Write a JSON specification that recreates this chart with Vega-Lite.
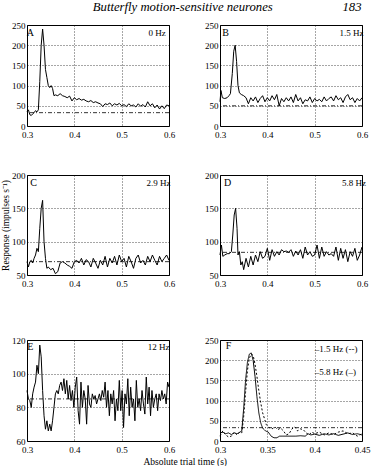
{
  "$schema": "https://vega.github.io/schema/vega-lite/v6.json",
  "padding": {"left": 0, "top": 0, "right": 0, "bottom": 0},
  "background": "white",
  "title": {"text": "Butterfly motion-sensitive neurones\u00a0\u00a0\u00a0\u00a0\u00a0\u00a0\u00a0\u00a0\u00a0\u00a0\u00a0\u00a0\u00a0\u00a0\u00a0\u00a0\u00a0\u00a0\u00a0\u00a0\u00a0\u00a0183", "fontStyle": "italic", "fontSize": 12.7, "anchor": "middle", "dx": 42, "offset": 7},
  "spacing": 46,
  "vconcat": [
    {
      "spacing": 30,
      "vconcat": [
        {
          "spacing": 28,
          "hconcat": [
            {
              "width": 142, "height": 101,
              "layer": [
                {
                  "data": {"values": [
                    {"t":0.300,"r":35},{"t":0.303,"r":40},{"t":0.306,"r":28},{"t":0.309,"r":26},{"t":0.312,"r":30},{"t":0.315,"r":33},{"t":0.318,"r":38},{"t":0.321,"r":35},{"t":0.324,"r":40},{"t":0.327,"r":110},{"t":0.330,"r":200},{"t":0.333,"r":240},{"t":0.336,"r":200},{"t":0.339,"r":140},{"t":0.342,"r":120},{"t":0.345,"r":100},{"t":0.348,"r":95},{"t":0.351,"r":100},{"t":0.354,"r":93},{"t":0.357,"r":75},{"t":0.360,"r":77},{"t":0.365,"r":75},{"t":0.370,"r":80},{"t":0.375,"r":75},{"t":0.380,"r":73},{"t":0.385,"r":70},{"t":0.390,"r":74},{"t":0.395,"r":62},{"t":0.400,"r":70},{"t":0.405,"r":65},{"t":0.410,"r":68},{"t":0.415,"r":64},{"t":0.420,"r":66},{"t":0.425,"r":62},{"t":0.430,"r":60},{"t":0.435,"r":63},{"t":0.440,"r":58},{"t":0.445,"r":60},{"t":0.450,"r":57},{"t":0.455,"r":55},{"t":0.460,"r":48},{"t":0.465,"r":55},{"t":0.470,"r":53},{"t":0.475,"r":57},{"t":0.480,"r":50},{"t":0.485,"r":55},{"t":0.490,"r":52},{"t":0.495,"r":56},{"t":0.500,"r":50},{"t":0.505,"r":53},{"t":0.510,"r":48},{"t":0.515,"r":55},{"t":0.520,"r":50},{"t":0.525,"r":52},{"t":0.530,"r":47},{"t":0.535,"r":55},{"t":0.540,"r":49},{"t":0.545,"r":53},{"t":0.550,"r":47},{"t":0.555,"r":60},{"t":0.560,"r":50},{"t":0.565,"r":55},{"t":0.570,"r":45},{"t":0.575,"r":52},{"t":0.580,"r":42},{"t":0.585,"r":50},{"t":0.590,"r":43},{"t":0.595,"r":52},{"t":0.600,"r":50}
                  ]},
                  "mark": {"type": "line", "color": "black", "strokeWidth": 1},
                  "encoding": {
                    "x": {"field": "t", "type": "quantitative", "scale": {"domain": [0.3, 0.6], "nice": false, "zero": false}, "axis": {"values": [0.3, 0.4, 0.5, 0.6], "format": ".1f", "title": null}},
                    "y": {"field": "r", "type": "quantitative", "scale": {"domain": [0, 250], "nice": false}, "axis": {"values": [0, 50, 100, 150, 200, 250], "title": "Response (impulses s\u207b\u00b9)", "titleOpacity": 0}}
                  }
                },
                {"data": {"values": [{"r": 33}]}, "mark": {"type": "rule", "color": "black", "strokeDash": [4, 2, 1, 2], "strokeWidth": 0.8},
                  "encoding": {"y": {"field": "r", "type": "quantitative", "scale": {"domain": [0, 250], "nice": false}, "axis": {"values": [0, 50, 100, 150, 200, 250], "title": "Response (impulses s\u207b\u00b9)", "titleOpacity": 0}}}},
                {"data": {"values": [{"t": 0.307, "r": 230, "label": "A"}, {"t": 0.575, "r": 230, "label": "0 Hz"}]}, "mark": {"type": "text", "baseline": "middle", "font": "Liberation Serif"},
                  "encoding": {
                    "x": {"field": "t", "type": "quantitative", "scale": {"domain": [0.3, 0.6], "nice": false, "zero": false}, "axis": {"values": [0.3, 0.4, 0.5, 0.6], "format": ".1f", "title": null}},
                    "y": {"field": "r", "type": "quantitative", "scale": {"domain": [0, 250], "nice": false}, "axis": {"values": [0, 50, 100, 150, 200, 250], "title": "Response (impulses s\u207b\u00b9)", "titleOpacity": 0}},
                    "text": {"field": "label"},
                    "align": {"condition": {"test": "length(datum.label) == 1", "value": "left"}, "value": "right"},
                    "size": {"condition": {"test": "length(datum.label) == 1", "value": 10}, "value": 9}
                  }}
              ]
            },
            {
              "width": 142, "height": 101,
              "layer": [
                {
                  "data": {"values": [
                    {"t":0.300,"r":60},{"t":0.302,"r":88},{"t":0.305,"r":70},{"t":0.310,"r":68},{"t":0.315,"r":70},{"t":0.319,"r":75},{"t":0.322,"r":80},{"t":0.326,"r":130},{"t":0.329,"r":185},{"t":0.332,"r":200},{"t":0.335,"r":160},{"t":0.338,"r":100},{"t":0.341,"r":82},{"t":0.345,"r":78},{"t":0.350,"r":75},{"t":0.355,"r":70},{"t":0.360,"r":55},{"t":0.365,"r":70},{"t":0.370,"r":62},{"t":0.375,"r":72},{"t":0.380,"r":58},{"t":0.385,"r":68},{"t":0.390,"r":75},{"t":0.395,"r":60},{"t":0.400,"r":70},{"t":0.405,"r":62},{"t":0.410,"r":75},{"t":0.415,"r":65},{"t":0.420,"r":78},{"t":0.425,"r":50},{"t":0.430,"r":68},{"t":0.435,"r":60},{"t":0.440,"r":70},{"t":0.445,"r":62},{"t":0.450,"r":72},{"t":0.455,"r":58},{"t":0.460,"r":78},{"t":0.465,"r":62},{"t":0.470,"r":70},{"t":0.475,"r":55},{"t":0.480,"r":65},{"t":0.485,"r":62},{"t":0.490,"r":72},{"t":0.495,"r":58},{"t":0.500,"r":68},{"t":0.505,"r":62},{"t":0.510,"r":66},{"t":0.515,"r":60},{"t":0.520,"r":72},{"t":0.525,"r":62},{"t":0.530,"r":68},{"t":0.535,"r":72},{"t":0.540,"r":62},{"t":0.545,"r":75},{"t":0.550,"r":65},{"t":0.555,"r":70},{"t":0.560,"r":58},{"t":0.565,"r":72},{"t":0.570,"r":78},{"t":0.575,"r":65},{"t":0.580,"r":70},{"t":0.585,"r":58},{"t":0.590,"r":68},{"t":0.595,"r":62},{"t":0.600,"r":70}
                  ]},
                  "mark": {"type": "line", "color": "black", "strokeWidth": 1},
                  "encoding": {
                    "x": {"field": "t", "type": "quantitative", "scale": {"domain": [0.3, 0.6], "nice": false, "zero": false}, "axis": {"values": [0.3, 0.4, 0.5, 0.6], "format": ".1f", "title": null}},
                    "y": {"field": "r", "type": "quantitative", "scale": {"domain": [0, 250], "nice": false}, "axis": {"values": [0, 50, 100, 150, 200, 250], "title": null}}
                  }
                },
                {"data": {"values": [{"r": 50}]}, "mark": {"type": "rule", "color": "black", "strokeDash": [4, 2, 1, 2], "strokeWidth": 0.8},
                  "encoding": {"y": {"field": "r", "type": "quantitative", "scale": {"domain": [0, 250], "nice": false}, "axis": {"values": [0, 50, 100, 150, 200, 250], "title": null}}}},
                {"data": {"values": [{"t": 0.312, "r": 230, "label": "B"}, {"t": 0.578, "r": 230, "label": "1.5 Hz"}]}, "mark": {"type": "text", "baseline": "middle", "font": "Liberation Serif"},
                  "encoding": {
                    "x": {"field": "t", "type": "quantitative", "scale": {"domain": [0.3, 0.6], "nice": false, "zero": false}, "axis": {"values": [0.3, 0.4, 0.5, 0.6], "format": ".1f", "title": null}},
                    "y": {"field": "r", "type": "quantitative", "scale": {"domain": [0, 250], "nice": false}, "axis": {"values": [0, 50, 100, 150, 200, 250], "title": null}},
                    "text": {"field": "label"},
                    "align": {"condition": {"test": "length(datum.label) == 1", "value": "left"}, "value": "right"},
                    "size": {"condition": {"test": "length(datum.label) == 1", "value": 10}, "value": 9}
                  }}
              ]
            }
          ]
        },
        {
          "spacing": 28,
          "hconcat": [
            {
              "width": 142, "height": 100,
              "layer": [
                {
                  "data": {"values": [
                    {"t":0.300,"r":70},{"t":0.303,"r":62},{"t":0.306,"r":70},{"t":0.309,"r":72},{"t":0.312,"r":68},{"t":0.315,"r":75},{"t":0.318,"r":80},{"t":0.321,"r":90},{"t":0.324,"r":85},{"t":0.327,"r":120},{"t":0.330,"r":150},{"t":0.333,"r":162},{"t":0.336,"r":100},{"t":0.339,"r":75},{"t":0.342,"r":60},{"t":0.345,"r":62},{"t":0.350,"r":58},{"t":0.355,"r":60},{"t":0.360,"r":52},{"t":0.365,"r":55},{"t":0.370,"r":68},{"t":0.375,"r":70},{"t":0.380,"r":68},{"t":0.385,"r":65},{"t":0.390,"r":63},{"t":0.395,"r":60},{"t":0.400,"r":70},{"t":0.405,"r":72},{"t":0.410,"r":68},{"t":0.415,"r":75},{"t":0.420,"r":65},{"t":0.425,"r":73},{"t":0.430,"r":70},{"t":0.435,"r":62},{"t":0.440,"r":75},{"t":0.445,"r":68},{"t":0.450,"r":60},{"t":0.455,"r":72},{"t":0.460,"r":65},{"t":0.465,"r":78},{"t":0.470,"r":62},{"t":0.475,"r":75},{"t":0.480,"r":68},{"t":0.485,"r":78},{"t":0.490,"r":65},{"t":0.495,"r":80},{"t":0.500,"r":70},{"t":0.505,"r":75},{"t":0.510,"r":62},{"t":0.515,"r":78},{"t":0.520,"r":70},{"t":0.525,"r":60},{"t":0.530,"r":75},{"t":0.535,"r":80},{"t":0.540,"r":68},{"t":0.545,"r":72},{"t":0.550,"r":65},{"t":0.555,"r":78},{"t":0.560,"r":70},{"t":0.565,"r":80},{"t":0.570,"r":72},{"t":0.575,"r":65},{"t":0.580,"r":78},{"t":0.585,"r":70},{"t":0.590,"r":75},{"t":0.595,"r":80},{"t":0.600,"r":72}
                  ]},
                  "mark": {"type": "line", "color": "black", "strokeWidth": 1},
                  "encoding": {
                    "x": {"field": "t", "type": "quantitative", "scale": {"domain": [0.3, 0.6], "nice": false, "zero": false}, "axis": {"values": [0.3, 0.4, 0.5, 0.6], "format": ".1f", "title": null}},
                    "y": {"field": "r", "type": "quantitative", "scale": {"domain": [50, 200], "nice": false, "zero": false}, "axis": {"values": [50, 100, 150, 200], "title": "Response (impulses s\u207b\u00b9)"}}
                  }
                },
                {"data": {"values": [{"r": 70}]}, "mark": {"type": "rule", "color": "black", "strokeDash": [4, 2, 1, 2], "strokeWidth": 0.8},
                  "encoding": {"y": {"field": "r", "type": "quantitative", "scale": {"domain": [50, 200], "nice": false, "zero": false}, "axis": {"values": [50, 100, 150, 200], "title": "Response (impulses s\u207b\u00b9)"}}}},
                {"data": {"values": [{"t": 0.314, "r": 188, "label": "C"}, {"t": 0.578, "r": 188, "label": "2.9 Hz"}]}, "mark": {"type": "text", "baseline": "middle", "font": "Liberation Serif"},
                  "encoding": {
                    "x": {"field": "t", "type": "quantitative", "scale": {"domain": [0.3, 0.6], "nice": false, "zero": false}, "axis": {"values": [0.3, 0.4, 0.5, 0.6], "format": ".1f", "title": null}},
                    "y": {"field": "r", "type": "quantitative", "scale": {"domain": [50, 200], "nice": false, "zero": false}, "axis": {"values": [50, 100, 150, 200], "title": "Response (impulses s\u207b\u00b9)"}},
                    "text": {"field": "label"},
                    "align": {"condition": {"test": "length(datum.label) == 1", "value": "left"}, "value": "right"},
                    "size": {"condition": {"test": "length(datum.label) == 1", "value": 10}, "value": 9}
                  }}
              ]
            },
            {
              "width": 142, "height": 100,
              "layer": [
                {
                  "data": {"values": [
                    {"t":0.300,"r":80},{"t":0.303,"r":95},{"t":0.306,"r":78},{"t":0.310,"r":80},{"t":0.315,"r":82},{"t":0.320,"r":82},{"t":0.324,"r":85},{"t":0.327,"r":110},{"t":0.330,"r":140},{"t":0.333,"r":150},{"t":0.336,"r":120},{"t":0.338,"r":80},{"t":0.341,"r":85},{"t":0.344,"r":65},{"t":0.347,"r":70},{"t":0.350,"r":58},{"t":0.355,"r":75},{"t":0.360,"r":62},{"t":0.365,"r":78},{"t":0.370,"r":65},{"t":0.375,"r":80},{"t":0.380,"r":70},{"t":0.385,"r":85},{"t":0.390,"r":75},{"t":0.395,"r":78},{"t":0.400,"r":90},{"t":0.405,"r":72},{"t":0.410,"r":88},{"t":0.415,"r":78},{"t":0.420,"r":85},{"t":0.425,"r":80},{"t":0.430,"r":88},{"t":0.435,"r":85},{"t":0.440,"r":86},{"t":0.445,"r":84},{"t":0.450,"r":88},{"t":0.455,"r":78},{"t":0.460,"r":86},{"t":0.465,"r":80},{"t":0.470,"r":88},{"t":0.475,"r":75},{"t":0.480,"r":92},{"t":0.485,"r":80},{"t":0.490,"r":85},{"t":0.495,"r":78},{"t":0.500,"r":80},{"t":0.505,"r":95},{"t":0.510,"r":75},{"t":0.515,"r":92},{"t":0.520,"r":78},{"t":0.525,"r":85},{"t":0.530,"r":80},{"t":0.535,"r":82},{"t":0.540,"r":78},{"t":0.545,"r":92},{"t":0.550,"r":72},{"t":0.555,"r":90},{"t":0.560,"r":75},{"t":0.565,"r":88},{"t":0.570,"r":70},{"t":0.575,"r":85},{"t":0.580,"r":78},{"t":0.585,"r":90},{"t":0.590,"r":72},{"t":0.595,"r":80},{"t":0.600,"r":92}
                  ]},
                  "mark": {"type": "line", "color": "black", "strokeWidth": 1},
                  "encoding": {
                    "x": {"field": "t", "type": "quantitative", "scale": {"domain": [0.3, 0.6], "nice": false, "zero": false}, "axis": {"values": [0.3, 0.4, 0.5, 0.6], "format": ".1f", "title": null}},
                    "y": {"field": "r", "type": "quantitative", "scale": {"domain": [50, 200], "nice": false, "zero": false}, "axis": {"values": [50, 100, 150, 200], "title": null}}
                  }
                },
                {"data": {"values": [{"r": 84}]}, "mark": {"type": "rule", "color": "black", "strokeDash": [4, 2, 1, 2], "strokeWidth": 0.8},
                  "encoding": {"y": {"field": "r", "type": "quantitative", "scale": {"domain": [50, 200], "nice": false, "zero": false}, "axis": {"values": [50, 100, 150, 200], "title": null}}}},
                {"data": {"values": [{"t": 0.316, "r": 188, "label": "D"}, {"t": 0.583, "r": 188, "label": "5.8 Hz"}]}, "mark": {"type": "text", "baseline": "middle", "font": "Liberation Serif"},
                  "encoding": {
                    "x": {"field": "t", "type": "quantitative", "scale": {"domain": [0.3, 0.6], "nice": false, "zero": false}, "axis": {"values": [0.3, 0.4, 0.5, 0.6], "format": ".1f", "title": null}},
                    "y": {"field": "r", "type": "quantitative", "scale": {"domain": [50, 200], "nice": false, "zero": false}, "axis": {"values": [50, 100, 150, 200], "title": null}},
                    "text": {"field": "label"},
                    "align": {"condition": {"test": "length(datum.label) == 1", "value": "left"}, "value": "right"},
                    "size": {"condition": {"test": "length(datum.label) == 1", "value": 10}, "value": 9}
                  }}
              ]
            }
          ]
        }
      ]
    },
    {
      "spacing": 28,
      "title": {"text": "Absolute trial time (s)", "orient": "bottom", "anchor": "middle", "fontSize": 9.5, "offset": 2},
      "hconcat": [
        {
          "width": 142, "height": 101,
          "layer": [
            {
              "data": {"values": [
                {"t":0.300,"r":90},{"t":0.303,"r":85},{"t":0.306,"r":84},{"t":0.309,"r":80},{"t":0.312,"r":88},{"t":0.315,"r":92},{"t":0.318,"r":95},{"t":0.321,"r":105},{"t":0.324,"r":100},{"t":0.327,"r":117},{"t":0.330,"r":110},{"t":0.333,"r":90},{"t":0.336,"r":75},{"t":0.339,"r":67},{"t":0.342,"r":72},{"t":0.345,"r":66},{"t":0.348,"r":70},{"t":0.351,"r":66},{"t":0.354,"r":72},{"t":0.357,"r":80},{"t":0.360,"r":88},{"t":0.363,"r":90},{"t":0.366,"r":88},{"t":0.369,"r":93},{"t":0.372,"r":95},{"t":0.375,"r":90},{"t":0.378,"r":97},{"t":0.381,"r":88},{"t":0.384,"r":96},{"t":0.387,"r":85},{"t":0.390,"r":93},{"t":0.393,"r":84},{"t":0.396,"r":90},{"t":0.399,"r":80},{"t":0.402,"r":92},{"t":0.405,"r":98},{"t":0.408,"r":78},{"t":0.411,"r":70},{"t":0.414,"r":95},{"t":0.417,"r":80},{"t":0.420,"r":90},{"t":0.423,"r":85},{"t":0.426,"r":70},{"t":0.429,"r":93},{"t":0.432,"r":82},{"t":0.435,"r":80},{"t":0.438,"r":88},{"t":0.441,"r":85},{"t":0.444,"r":87},{"t":0.447,"r":82},{"t":0.450,"r":85},{"t":0.453,"r":88},{"t":0.456,"r":84},{"t":0.459,"r":90},{"t":0.462,"r":86},{"t":0.465,"r":95},{"t":0.468,"r":80},{"t":0.471,"r":90},{"t":0.474,"r":75},{"t":0.477,"r":88},{"t":0.480,"r":82},{"t":0.483,"r":90},{"t":0.486,"r":72},{"t":0.489,"r":85},{"t":0.492,"r":78},{"t":0.495,"r":96},{"t":0.498,"r":78},{"t":0.501,"r":90},{"t":0.504,"r":68},{"t":0.507,"r":88},{"t":0.510,"r":82},{"t":0.513,"r":97},{"t":0.516,"r":75},{"t":0.519,"r":92},{"t":0.522,"r":80},{"t":0.525,"r":85},{"t":0.528,"r":72},{"t":0.531,"r":96},{"t":0.534,"r":80},{"t":0.537,"r":85},{"t":0.540,"r":78},{"t":0.543,"r":90},{"t":0.546,"r":82},{"t":0.549,"r":76},{"t":0.552,"r":98},{"t":0.555,"r":82},{"t":0.558,"r":92},{"t":0.561,"r":75},{"t":0.564,"r":90},{"t":0.567,"r":80},{"t":0.570,"r":85},{"t":0.573,"r":88},{"t":0.576,"r":78},{"t":0.579,"r":88},{"t":0.582,"r":84},{"t":0.585,"r":90},{"t":0.588,"r":85},{"t":0.591,"r":88},{"t":0.594,"r":82},{"t":0.597,"r":95},{"t":0.600,"r":92}
              ]},
              "mark": {"type": "line", "color": "black", "strokeWidth": 1},
              "encoding": {
                "x": {"field": "t", "type": "quantitative", "scale": {"domain": [0.3, 0.6], "nice": false, "zero": false}, "axis": {"values": [0.3, 0.4, 0.5, 0.6], "format": ".1f", "title": null}},
                "y": {"field": "r", "type": "quantitative", "scale": {"domain": [60, 120], "nice": false, "zero": false}, "axis": {"values": [60, 80, 100, 120], "title": "Response (impulses s\u207b\u00b9)", "titleOpacity": 0}}
              }
            },
            {"data": {"values": [{"r": 85}]}, "mark": {"type": "rule", "color": "black", "strokeDash": [4, 2, 1, 2], "strokeWidth": 0.8},
              "encoding": {"y": {"field": "r", "type": "quantitative", "scale": {"domain": [60, 120], "nice": false, "zero": false}, "axis": {"values": [60, 80, 100, 120], "title": "Response (impulses s\u207b\u00b9)", "titleOpacity": 0}}}},
            {"data": {"values": [{"t": 0.307, "r": 116, "label": "E"}, {"t": 0.578, "r": 116, "label": "12 Hz"}]}, "mark": {"type": "text", "baseline": "middle", "font": "Liberation Serif"},
              "encoding": {
                "x": {"field": "t", "type": "quantitative", "scale": {"domain": [0.3, 0.6], "nice": false, "zero": false}, "axis": {"values": [0.3, 0.4, 0.5, 0.6], "format": ".1f", "title": null}},
                "y": {"field": "r", "type": "quantitative", "scale": {"domain": [60, 120], "nice": false, "zero": false}, "axis": {"values": [60, 80, 100, 120], "title": "Response (impulses s\u207b\u00b9)", "titleOpacity": 0}},
                "text": {"field": "label"},
                "align": {"condition": {"test": "length(datum.label) == 1", "value": "left"}, "value": "right"},
                "size": {"condition": {"test": "length(datum.label) == 1", "value": 10}, "value": 9}
              }}
          ]
        },
        {
          "width": 142, "height": 101,
          "layer": [
            {
              "data": {"values": [
                {"s":"5.8 Hz","t":0.300,"r":20},{"s":"5.8 Hz","t":0.303,"r":22},{"s":"5.8 Hz","t":0.306,"r":18},{"s":"5.8 Hz","t":0.309,"r":20},{"s":"5.8 Hz","t":0.312,"r":16},{"s":"5.8 Hz","t":0.315,"r":20},{"s":"5.8 Hz","t":0.318,"r":18},{"s":"5.8 Hz","t":0.321,"r":22},{"s":"5.8 Hz","t":0.323,"r":25},{"s":"5.8 Hz","t":0.325,"r":80},{"s":"5.8 Hz","t":0.327,"r":150},{"s":"5.8 Hz","t":0.329,"r":195},{"s":"5.8 Hz","t":0.331,"r":215},{"s":"5.8 Hz","t":0.333,"r":218},{"s":"5.8 Hz","t":0.335,"r":200},{"s":"5.8 Hz","t":0.337,"r":160},{"s":"5.8 Hz","t":0.339,"r":110},{"s":"5.8 Hz","t":0.341,"r":70},{"s":"5.8 Hz","t":0.343,"r":45},{"s":"5.8 Hz","t":0.345,"r":32},{"s":"5.8 Hz","t":0.348,"r":25},{"s":"5.8 Hz","t":0.351,"r":22},{"s":"5.8 Hz","t":0.354,"r":12},{"s":"5.8 Hz","t":0.357,"r":8},{"s":"5.8 Hz","t":0.360,"r":8},{"s":"5.8 Hz","t":0.363,"r":12},{"s":"5.8 Hz","t":0.366,"r":12},{"s":"5.8 Hz","t":0.370,"r":12},{"s":"5.8 Hz","t":0.375,"r":12},{"s":"5.8 Hz","t":0.380,"r":12},{"s":"5.8 Hz","t":0.385,"r":13},{"s":"5.8 Hz","t":0.390,"r":12},{"s":"5.8 Hz","t":0.393,"r":18},{"s":"5.8 Hz","t":0.396,"r":15},{"s":"5.8 Hz","t":0.400,"r":17},{"s":"5.8 Hz","t":0.405,"r":14},{"s":"5.8 Hz","t":0.410,"r":18},{"s":"5.8 Hz","t":0.415,"r":15},{"s":"5.8 Hz","t":0.420,"r":18},{"s":"5.8 Hz","t":0.425,"r":14},{"s":"5.8 Hz","t":0.430,"r":17},{"s":"5.8 Hz","t":0.435,"r":20},{"s":"5.8 Hz","t":0.440,"r":16},{"s":"5.8 Hz","t":0.445,"r":18},{"s":"5.8 Hz","t":0.450,"r":15},
                {"s":"1.5 Hz","t":0.300,"r":12},{"s":"1.5 Hz","t":0.303,"r":25},{"s":"1.5 Hz","t":0.306,"r":15},{"s":"1.5 Hz","t":0.309,"r":10},{"s":"1.5 Hz","t":0.312,"r":12},{"s":"1.5 Hz","t":0.315,"r":22},{"s":"1.5 Hz","t":0.318,"r":15},{"s":"1.5 Hz","t":0.321,"r":22},{"s":"1.5 Hz","t":0.323,"r":20},{"s":"1.5 Hz","t":0.325,"r":60},{"s":"1.5 Hz","t":0.327,"r":120},{"s":"1.5 Hz","t":0.329,"r":175},{"s":"1.5 Hz","t":0.331,"r":205},{"s":"1.5 Hz","t":0.333,"r":215},{"s":"1.5 Hz","t":0.335,"r":212},{"s":"1.5 Hz","t":0.337,"r":190},{"s":"1.5 Hz","t":0.339,"r":160},{"s":"1.5 Hz","t":0.341,"r":125},{"s":"1.5 Hz","t":0.343,"r":95},{"s":"1.5 Hz","t":0.345,"r":70},{"s":"1.5 Hz","t":0.347,"r":55},{"s":"1.5 Hz","t":0.349,"r":40},{"s":"1.5 Hz","t":0.352,"r":33},{"s":"1.5 Hz","t":0.355,"r":30},{"s":"1.5 Hz","t":0.358,"r":35},{"s":"1.5 Hz","t":0.361,"r":28},{"s":"1.5 Hz","t":0.364,"r":32},{"s":"1.5 Hz","t":0.367,"r":25},{"s":"1.5 Hz","t":0.370,"r":15},{"s":"1.5 Hz","t":0.373,"r":18},{"s":"1.5 Hz","t":0.376,"r":30},{"s":"1.5 Hz","t":0.379,"r":35},{"s":"1.5 Hz","t":0.382,"r":25},{"s":"1.5 Hz","t":0.385,"r":30},{"s":"1.5 Hz","t":0.388,"r":28},{"s":"1.5 Hz","t":0.391,"r":20},{"s":"1.5 Hz","t":0.394,"r":15},{"s":"1.5 Hz","t":0.397,"r":22},{"s":"1.5 Hz","t":0.400,"r":18},{"s":"1.5 Hz","t":0.405,"r":22},{"s":"1.5 Hz","t":0.410,"r":15},{"s":"1.5 Hz","t":0.415,"r":20},{"s":"1.5 Hz","t":0.420,"r":16},{"s":"1.5 Hz","t":0.425,"r":22},{"s":"1.5 Hz","t":0.430,"r":25},{"s":"1.5 Hz","t":0.435,"r":18},{"s":"1.5 Hz","t":0.440,"r":20},{"s":"1.5 Hz","t":0.445,"r":12},{"s":"1.5 Hz","t":0.450,"r":18}
              ]},
              "mark": {"type": "line", "color": "black", "strokeWidth": 1},
              "encoding": {
                "x": {"field": "t", "type": "quantitative", "scale": {"domain": [0.3, 0.45], "nice": false, "zero": false}, "axis": {"values": [0.3, 0.35, 0.4, 0.45], "format": ".2~f", "title": null}},
                "y": {"field": "r", "type": "quantitative", "scale": {"domain": [0, 250], "nice": false}, "axis": {"values": [0, 50, 100, 150, 200, 250], "title": null}},
                "detail": {"field": "s", "type": "nominal"},
                "strokeDash": {"field": "s", "type": "nominal", "scale": {"domain": ["1.5 Hz", "5.8 Hz"], "range": [[2, 2], [1, 0]]}, "legend": null}
              }
            },
            {"data": {"values": [{"r": 33}]}, "mark": {"type": "rule", "color": "black", "strokeDash": [4, 2, 1, 2], "strokeWidth": 0.8},
              "encoding": {"y": {"field": "r", "type": "quantitative", "scale": {"domain": [0, 250], "nice": false}, "axis": {"values": [0, 50, 100, 150, 200, 250], "title": null}}}},
            {"data": {"values": [{"t": 0.306, "r": 235, "label": "F"}, {"t": 0.4, "r": 228, "label": "\u20131.5 Hz (--)"}, {"t": 0.4, "r": 172, "label": "\u20135.8 Hz (\u2013)"}]}, "mark": {"type": "text", "baseline": "middle", "align": "left", "font": "Liberation Serif"},
              "encoding": {
                "x": {"field": "t", "type": "quantitative", "scale": {"domain": [0.3, 0.45], "nice": false, "zero": false}, "axis": {"values": [0.3, 0.35, 0.4, 0.45], "format": ".2~f", "title": null}},
                "y": {"field": "r", "type": "quantitative", "scale": {"domain": [0, 250], "nice": false}, "axis": {"values": [0, 50, 100, 150, 200, 250], "title": null}},
                "text": {"field": "label"},
                "size": {"condition": {"test": "length(datum.label) == 1", "value": 10}, "value": 9}
              }}
          ]
        }
      ]
    }
  ],
  "config": {
    "font": "Liberation Serif",
    "view": {"stroke": "black", "strokeWidth": 1},
    "axis": {"domain": false, "ticks": false, "labelFont": "Liberation Serif", "labelFontSize": 9, "labelColor": "black", "labelPadding": 2, "labelFlush": false, "labelOverlap": false, "gridColor": "black", "gridDash": [1, 2], "gridWidth": 0.7, "gridOpacity": 1, "titleFont": "Liberation Serif", "titleFontSize": 9.5, "titleFontWeight": "normal", "titleColor": "black", "titlePadding": 1},
    "axisX": {"labelPadding": 4},
    "title": {"font": "Liberation Serif", "fontWeight": "normal", "color": "black"}
  }
}
